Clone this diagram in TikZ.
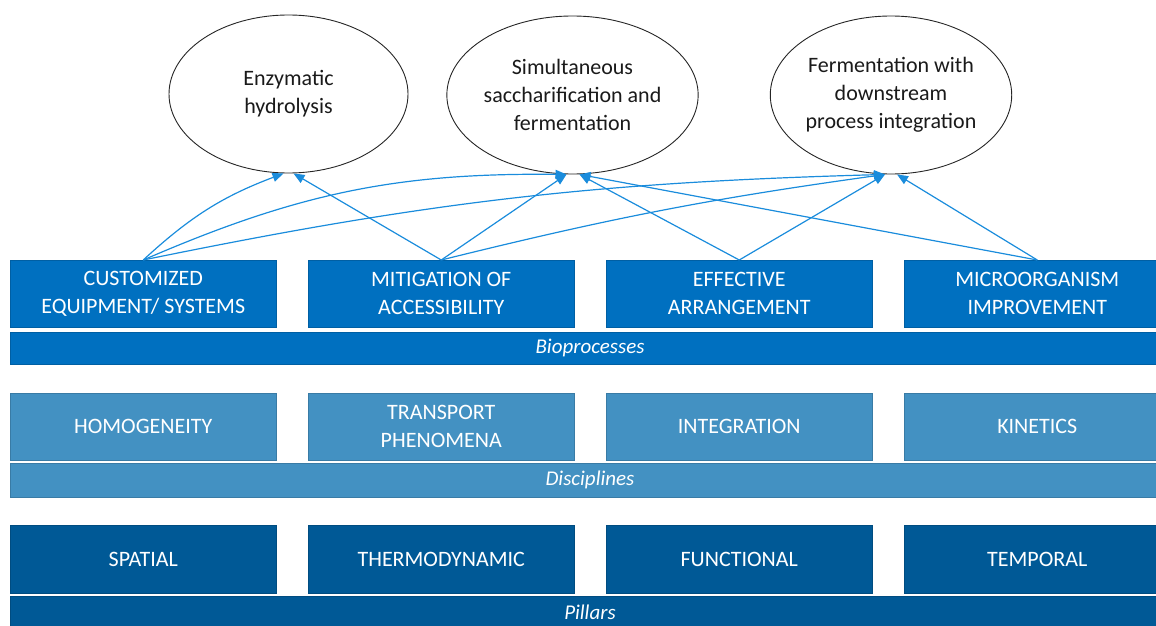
\documentclass[tikz,border=0pt]{standalone}
\usepackage{fontspec}
\setmainfont{Carlito}
\usetikzlibrary{arrows.meta,shapes.geometric}
\definecolor{bioC}{HTML}{0070C0}
\definecolor{disC}{HTML}{4391C2}
\definecolor{pilC}{HTML}{005996}
\definecolor{arrC}{HTML}{1A8CDC}
\definecolor{txtC}{HTML}{1A1A1A}
\begin{document}
\begin{tikzpicture}[x=1pt,y=-1pt,
  boxbase/.style={minimum width=266pt, minimum height=67pt, inner sep=0pt,
    text=white, align=center, anchor=north west,
    font=\fontsize{22}{28}\selectfont, draw=#1!85!black, line width=0.5pt, fill=#1},
  biobox/.style={boxbase=bioC},
  disbox/.style={boxbase=disC},
  pilbox/.style={boxbase=pilC},
  barbase/.style={minimum width=1170pt, inner sep=0pt, anchor=north west,
    text=white, fill=#1, draw=#1!85!black, line width=0.5pt},
  bartext/.style={text=white, font=\fontsize{21}{25}\selectfont\itshape, inner sep=0pt},
  goal/.style={ellipse, draw=black!85, line width=0.9pt, fill=white,
    minimum width=239pt, minimum height=158pt, inner sep=0pt, align=center,
    text=txtC, font=\fontsize{22}{28}\selectfont},
  arr/.style={draw=arrC, line width=1.2pt, -{Triangle[length=11pt,width=9pt]}}
]
\useasboundingbox (0,0) rectangle (1156,626);
\clip (0,0) rectangle (1156,626);

% bars
\node[barbase=bioC, minimum height=32pt] (bar1) at (10,332) {};
\node[barbase=disC, minimum height=34pt] (bar2) at (10,463) {};
\node[barbase=pilC, minimum height=44pt] (bar3) at (10,596) {};
\node[bartext] (bt1) at (590,348) {Bioprocesses};
\node[bartext] (bt2) at (590,480) {Disciplines};
\node[bartext] (bt3) at (590,612) {Pillars};

% row 1
\node[biobox] (b1) at (10,260) {CUSTOMIZED\\EQUIPMENT/ SYSTEMS};
\node[biobox] (b2) at (308,260) {MITIGATION OF\\ACCESSIBILITY};
\node[biobox] (b3) at (606,260) {EFFECTIVE\\ARRANGEMENT};
\node[biobox] (b4) at (904,260) {MICROORGANISM\\IMPROVEMENT};

% row 2
\node[disbox] (d1) at (10,393) {HOMOGENEITY};
\node[disbox] (d2) at (308,393) {TRANSPORT\\PHENOMENA};
\node[disbox] (d3) at (606,393) {INTEGRATION};
\node[disbox] (d4) at (904,393) {KINETICS};

% row 3
\node[pilbox, minimum height=68pt] (p1) at (10,525) {SPATIAL};
\node[pilbox, minimum height=68pt] (p2) at (308,525) {THERMODYNAMIC};
\node[pilbox, minimum height=68pt] (p3) at (606,525) {FUNCTIONAL};
\node[pilbox, minimum height=68pt] (p4) at (904,525) {TEMPORAL};

% goals
\node[goal] (e1) at (288.5,94) {Enzymatic\\hydrolysis};
\node[goal] (e2) at (572.5,95) {Simultaneous\\saccharification and\\fermentation};
\node[goal] (e3) at (891,95) {Fermentation with\\downstream\\process integration};

\coordinate (e1L) at ([xshift=-5pt]e1.south);
\coordinate (e1R) at ([xshift=5pt]e1.south);
\coordinate (e2L) at ([xshift=-6pt]e2.south);
\coordinate (e2R) at ([xshift=7pt]e2.south);
\coordinate (e3L) at ([xshift=-6pt]e3.south);
\coordinate (e3R) at ([xshift=6pt]e3.south);

% connectors
\draw[arr] (b1.north) to[bend left=11] (e1L);
\draw[arr] (b1.north) to[bend left=12] (e2L);
\draw[arr] (b1.north) to[bend left=5] (e3L);
\draw[arr] (b2.north) -- (e1R);
\draw[arr] (b2.north) -- (e2L);
\draw[arr] (b2.north) to[bend left=3] (e3L);
\draw[arr] (b3.north) -- (e2R);
\draw[arr] (b3.north) -- (e3L);
\draw[arr] (b4.north) -- (e2R);
\draw[arr] (b4.north) -- (e3R);
\end{tikzpicture}
\end{document}
